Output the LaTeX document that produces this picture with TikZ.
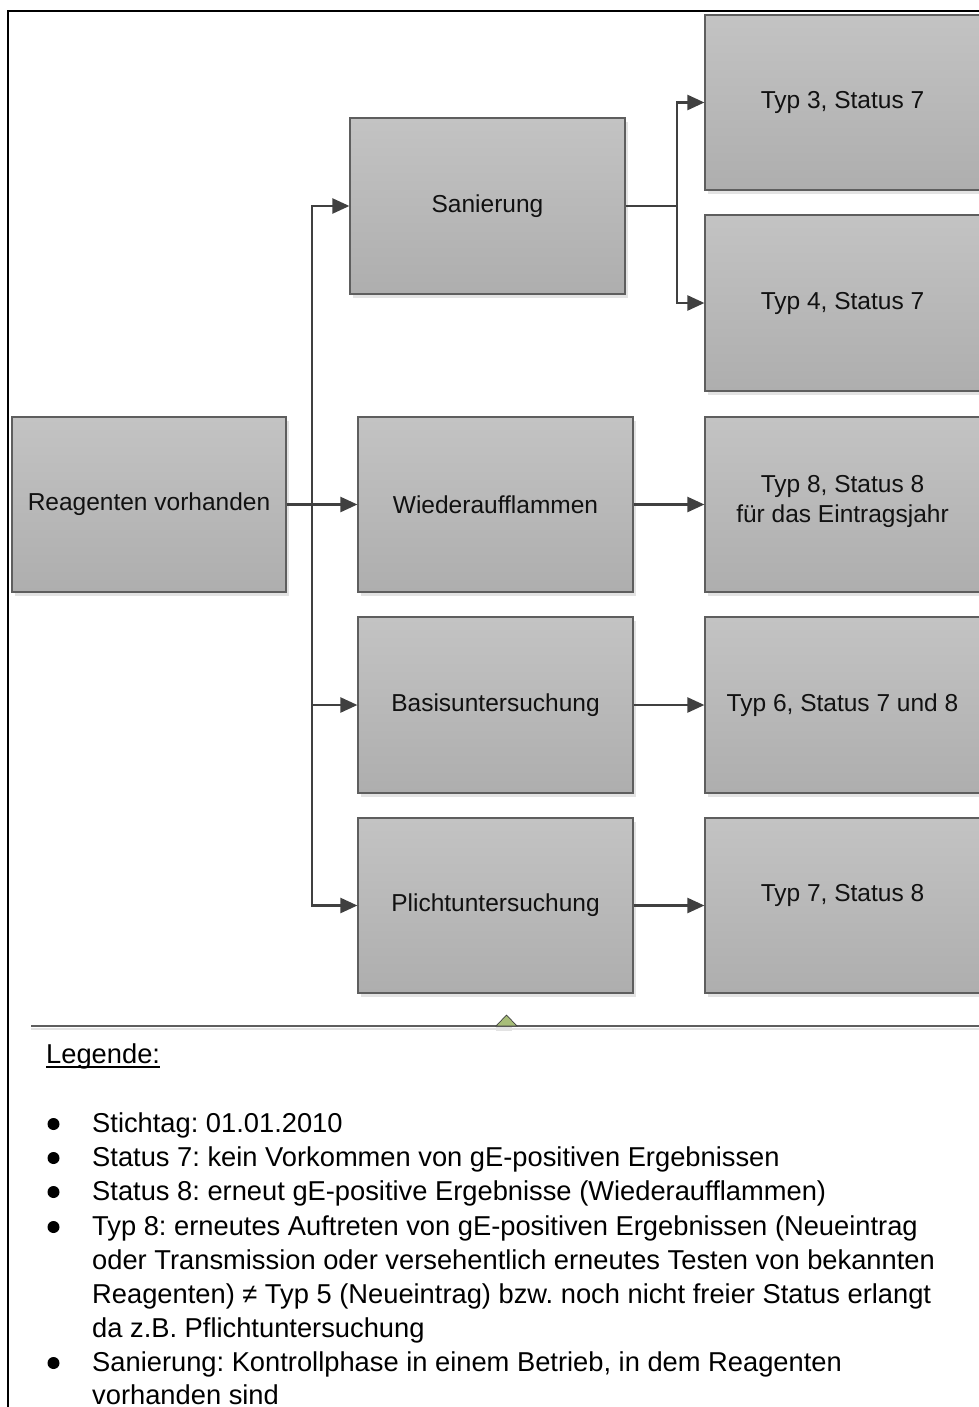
\documentclass[tikz,border=0pt]{standalone}
\usepackage{fontspec}
\setmainfont{Liberation Sans}
\usetikzlibrary{arrows.meta,shadows}
\frenchspacing

\definecolor{boxtop}{HTML}{C3C3C3}
\definecolor{boxbot}{HTML}{AEAEAE}
\definecolor{boxline}{HTML}{5E5E5E}
\definecolor{shadegray}{HTML}{E3E3E3}
\definecolor{connline}{HTML}{404040}
\definecolor{textblack}{HTML}{111111}
\definecolor{markgreen}{HTML}{A7BD78}

\newcommand\diagfont{\fontsize{24.5pt}{30pt}\selectfont}
\newcommand\legendfont{\fontsize{27.3pt}{34pt}\selectfont}

\begin{document}
\begin{tikzpicture}[x=1pt,y=-1pt,
  box/.style={draw=boxline, line width=1.2pt, top color=boxtop, bottom color=boxbot,
    minimum width=275pt, minimum height=176pt, inner sep=0pt, font=\diagfont,
    text=textblack,
    drop shadow={shadow xshift=3pt, shadow yshift=-4pt, fill=shadegray, opacity=1}},
  line/.style={draw=connline, line width=2.4pt},
  conn/.style={line, -{Triangle[length=17pt,width=15pt]}},
  legtext/.style={inner sep=0pt, anchor=base west, font=\legendfont, text=black},
  bullet/.style={fill=black}
]
\useasboundingbox (0,0) rectangle (978,1407);

% page frame (left and top edges)
\draw[line width=2.5pt, line join=miter] (8,1420) -- (8,11) -- (990,11);

% process boxes
\node[box, minimum width=274pt, minimum height=175pt] (reag) at (149,504.5) {Reagenten vorhanden};
\node[box] (san) at (487.5,206) {Sanierung};
\node[box, minimum height=175pt] (t3) at (842.5,102.5) {Typ 3, Status 7};
\node[box] (t4) at (842.5,303) {Typ 4, Status 7};
\node[box, minimum height=175pt] (wied) at (495.5,504.5) {Wiederaufflammen};
\node[box, minimum height=175pt] (t8) at (842.5,504.5)
  {\raisebox{29pt}{\begin{tabular}{@{}c@{}}Typ 8, Status 8\\für das Eintragsjahr\end{tabular}}};
\node[box] (basis) at (495.5,705) {Basisuntersuchung};
\node[box] (t6) at (842.5,705) {Typ 6, Status 7 und 8};
\node[box, minimum height=175pt] (pfl) at (495.5,905.5) {Plichtuntersuchung};
\node[box, minimum height=175pt] (t7) at (842.5,905.5) {\raisebox{25.4pt}{Typ 7, Status 8}};

% branching connectors
\coordinate (bus) at (312,504.5);
\coordinate (sbus) at (677,206);
\draw[conn] (reag.east) -- (wied.west);
\draw[conn] (bus) |- (san.west);
\draw[conn] (bus) |- (basis.west);
\draw[conn] (bus) |- (pfl.west);
\draw[line] (san.east) -- (sbus);
\draw[conn] (sbus) |- (t3.west);
\draw[conn] (sbus) |- (t4.west);
\draw[conn] (wied.east) -- (t8.west);
\draw[conn] (basis.east) -- (t6.west);
\draw[conn] (pfl.east) -- (t7.west);

% separator with marker
\coordinate (sepL) at (31,1026);
\coordinate (sepR) at (990,1026);
\draw[shadegray, line width=2.5pt] ([yshift=-3pt]sepL) -- ([yshift=-3pt]sepR);
\fill[shadegray] (496,1027) rectangle (512,1031);
\draw[boxline, line width=1.2pt] (sepL) -- (sepR);
\filldraw[fill=markgreen, draw=black!75, line width=0.7pt] (496,1026) -- (517,1026) -- (506.5,1015) -- cycle;

% legend
\node[legtext] (leg) at (46,1063) {Legende:};
\draw[line width=1.4pt] ([yshift=-4pt]leg.base west) -- ([yshift=-4pt]leg.base east);

\foreach \y in {1124,1158,1192,1227,1363}
  \fill[bullet] (53.5,\y) circle (6pt);

\node[legtext] (l1) at (92,1132) {Stichtag: 01.01.2010};
\node[legtext] (l2) at (92,1166) {Status 7: kein Vorkommen von gE-positiven Ergebnissen};
\node[legtext] (l3) at (92,1200) {Status 8: erneut gE-positive Ergebnisse (Wiederaufflammen)};
\node[legtext] (l4) at (92,1235) {Typ 8: erneutes Auftreten von gE-positiven Ergebnissen (Neueintrag};
\node[legtext] (l5) at (92,1269) {oder Transmission oder versehentlich erneutes Testen von bekannten};
\node[legtext] (l6) at (92,1303) {Reagenten) ≠ Typ 5 (Neueintrag) bzw. noch nicht freier Status erlangt};
\node[legtext] (l7) at (92,1337) {da z.B. Pflichtuntersuchung};
\node[legtext] (l8) at (92,1371) {Sanierung: Kontrollphase in einem Betrieb, in dem Reagenten};
\node[legtext] (l9) at (92,1404) {vorhanden sind};
\end{tikzpicture}
\end{document}
